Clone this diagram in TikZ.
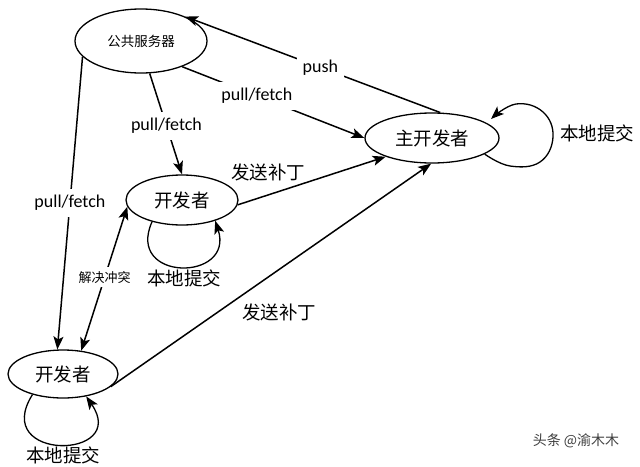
\documentclass[tikz,border=0pt]{standalone}
\usepackage{fontspec}
\setmainfont{Carlito}
\newfontfamily\cjk{Noto Sans CJK SC}
\usetikzlibrary{shapes.geometric,arrows.meta}
\begin{document}
\begin{tikzpicture}[x=1pt,y=-1pt,
  ell/.style={draw,ellipse,line width=1.3pt,inner sep=0pt},
  conn/.style={line width=1.5pt,-{Stealth[length=13pt,width=10pt,inset=3pt]}},
  loopline/.style={line width=1.3pt,-{Stealth[length=13pt,width=10pt,inset=3pt]}},
  lbl/.style={fill=white,inner sep=6pt,font=\fontsize{18}{20}\selectfont},
  cjklbl/.style={inner sep=1pt,font=\cjk\fontsize{18.5}{20}\selectfont}]
\useasboundingbox (0,0) rectangle (640,466);
\fill[white] (0,0) rectangle (640,466);

\node[ell,minimum width=132pt,minimum height=64pt,font=\cjk\fontsize{13.5}{15}\selectfont] (srv) at (141,41) {公共服务器};
\node[ell,minimum width=134pt,minimum height=50pt,font=\cjk\fontsize{18.5}{20}\selectfont] (main) at (432,138) {主开发者};
\node[ell,minimum width=112pt,minimum height=50pt,font=\cjk\fontsize{18.5}{20}\selectfont] (dev1) at (182,200) {开发者};
\node[ell,minimum width=110pt,minimum height=48pt,font=\cjk\fontsize{18.5}{20}\selectfont] (dev2) at (63,374) {开发者};

% push
\draw[conn] (main.72) -- (srv.29) node[pos=0.47,lbl] (lpush) {push};
% pull/fetch to main
\draw[conn] (srv.-32) -- (main.west) node[pos=0.41,lbl] (lpf1) {pull/fetch};
% pull/fetch to dev1
\draw[conn] (srv.-75) -- (dev1.north) node[pos=0.52,lbl] (lpf2) {pull/fetch};
% pull/fetch to dev2
\draw[conn] (srv.195) -- (dev2.103) node[pos=0.5,lbl] (lpf3) {pull/fetch};
% conflict
\draw[line width=1.5pt,{Stealth[length=13pt,width=10pt,inset=3pt]}-{Stealth[length=13pt,width=10pt,inset=3pt]}] (dev2.52) -- (dev1.187)
  node[pos=0.51,fill=white,inner sep=4pt,font=\cjk\fontsize{13}{15}\selectfont] (lconf) {解决冲突};
% patches
\draw[conn] (dev1.-5) -- (main.202);
\node[cjklbl] (lpatch1) at (268,172) {发送补丁};
\draw[conn] (dev2.-15) -- (main.-92);
\node[cjklbl] (lpatch2) at (279,312) {发送补丁};

% self loops
\draw[loopline] plot[smooth,tension=0.7] coordinates {(main.-17) (510,166) (540,162) (553,137) (543,112) (516,104) (491,119)};
\node[cjklbl] (lloop1) at (597,133) {本地提交};
\draw[loopline] (dev1.216) .. controls (125,282) and (235,282) .. (dev1.-32);
\node[cjklbl] (lloop2) at (184,278) {本地提交};
\draw[loopline] (dev2.214) .. controls (-10,462) and (130,460) .. (dev2.-44);
\node[cjklbl] (lloop3) at (63,455) {本地提交};

\node[font=\cjk\fontsize{14}{16}\selectfont,text=black!75] (wm) at (576,441) {头条 @渝木木};
\end{tikzpicture}
\end{document}
